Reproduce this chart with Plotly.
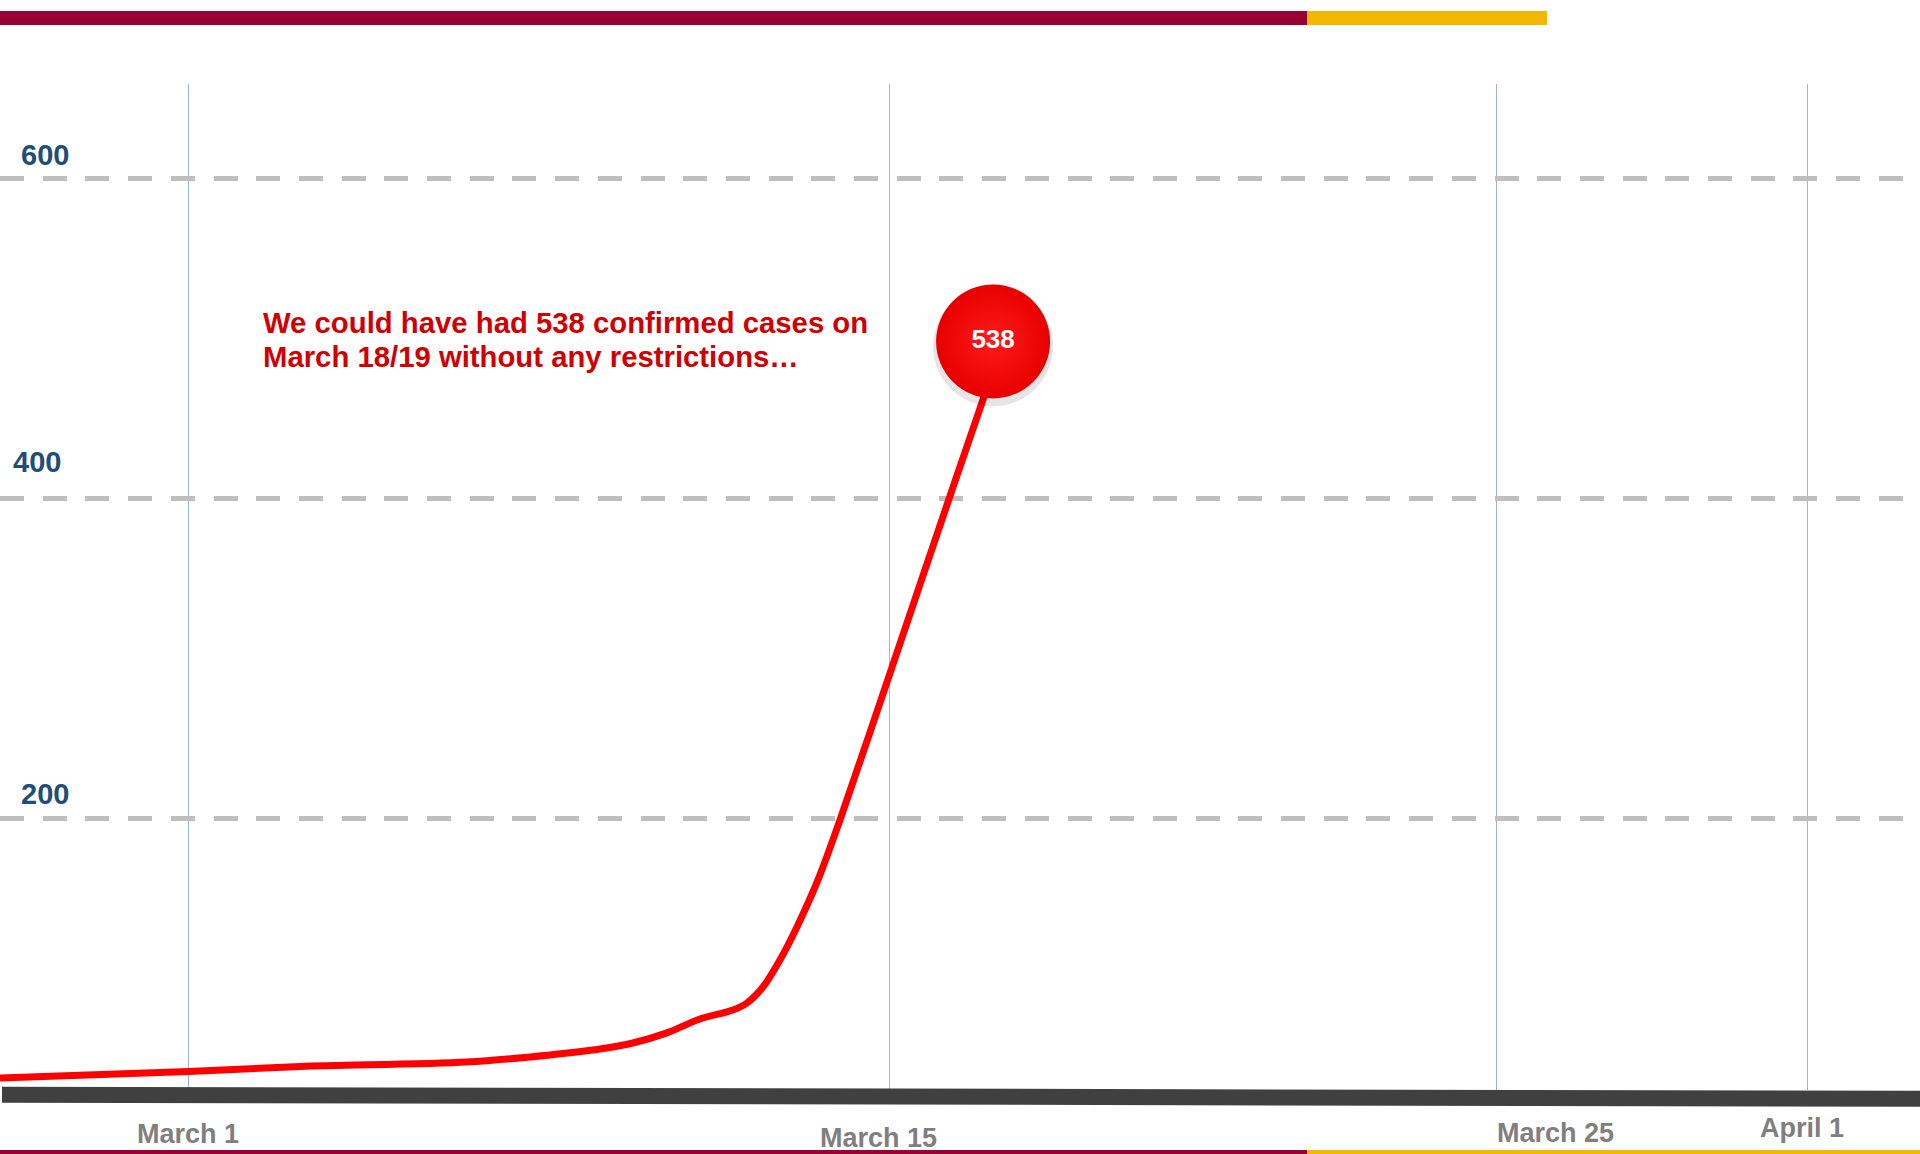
import plotly.graph_objects as go

# ---- data ----
day = [-3.77, 0.0, 2.23, 5.56, 7.22, 8.22, 8.88, 9.56, 10.22, 10.88, 11.16,
       11.48, 11.82, 12.16, 12.58, 13.02, 14.02, 15.26, 15.98]
cases = [37.4, 41.5, 44.6, 47.4, 51.8, 55.5, 59.3, 65.6, 74.3, 79.9, 84.3,
         94.3, 111.2, 131.9, 161.3, 198.8, 290.7, 405.2, 470.9]

peak_day = [16.08]
peak_pos = [498.1]
peak_label = ["538"]

y_ticks = [200, 400, 600]
y_tick_labels = ["200", "400", "600"]

grid_days = [0, 14, 26.15, 32.36]
date_labels = ["March 1", "March 15", "March 25", "April 1"]

callout_lines = ["We could have had 538 confirmed cases on",
                 "March 18/19 without any restrictions…"]

# ---- styling ----
W, H = 1920, 1154
M_T, M_B = 84, 64
FONT = "Arial, 'Liberation Sans', sans-serif"
RED = "#FF0000"
CRIMSON = "#990033"
GOLD = "#F2B700"

fig = go.Figure()

# main curve
fig.add_trace(go.Scatter(
    x=day, y=cases, mode="lines",
    line=dict(color=RED, width=7, shape="spline", smoothing=0.9),
    hoverinfo="skip", showlegend=False))

# bubble shadow
fig.add_trace(go.Scatter(
    x=peak_day, y=[v - 3.0 for v in peak_pos], mode="markers",
    marker=dict(size=120, color="rgba(0,0,0,0.10)", line=dict(width=0)),
    hoverinfo="skip", showlegend=False))

# bubble
fig.add_trace(go.Scatter(
    x=peak_day, y=peak_pos, mode="markers+text",
    text=["<b>%s</b>" % t for t in peak_label],
    textposition="middle center",
    textfont=dict(family=FONT, size=26, color="white"),
    marker=dict(size=114, color="#E80000",
                gradient=dict(type="radial", color="#FF1A1A"),
                line=dict(width=0)),
    hoverinfo="skip", showlegend=False))

annotations = []
# y labels
y_shifts = [24, 36, 24]
y_label_x = [45, 37, 45]
for v, t, s, px in zip(y_ticks, y_tick_labels, y_shifts, y_label_x):
    annotations.append(dict(
        xref="paper", yref="y", x=px / W, y=v, xanchor="center", yanchor="middle",
        yshift=s, showarrow=False, text="<b>%s</b>" % t,
        font=dict(family=FONT, size=29, color="#1F4E79")))

# date labels
x_shifts = [-1, -11, 59, -6]
y_px = [1134, 1138, 1133, 1128]
for d, t, xs, yp in zip(grid_days, date_labels, x_shifts, y_px):
    annotations.append(dict(
        xref="x", yref="paper", x=d, y=0, xanchor="center", yanchor="middle",
        xshift=xs, yshift=-(yp - (H - M_B)), showarrow=False, text="<b>%s</b>" % t,
        font=dict(family=FONT, size=27, color="#7F7F7F")))

# callout text
for i, line in enumerate(callout_lines):
    ypix = 322 + 34 * i
    annotations.append(dict(
        xref="paper", yref="paper", x=261 / W,
        y=((H - M_B) - ypix) / (H - M_T - M_B), xanchor="left", yanchor="middle",
        showarrow=False, text="<b>%s</b>" % line,
        font=dict(family=FONT, size=29.3, color="#D00000")))

ph = H - M_T - M_B


def py(pix):
    return ((H - M_B) - pix) / ph


shapes = [
    # top banner
    dict(type="rect", xref="paper", yref="paper", x0=0, x1=1307 / W,
         y0=py(25), y1=py(11), fillcolor=CRIMSON, line=dict(width=0), layer="above"),
    dict(type="rect", xref="paper", yref="paper", x0=1307 / W, x1=1547 / W,
         y0=py(25), y1=py(11), fillcolor=GOLD, line=dict(width=0), layer="above"),
    # bottom rule
    dict(type="rect", xref="paper", yref="paper", x0=0, x1=1307 / W,
         y0=py(1155), y1=py(1150), fillcolor=CRIMSON, line=dict(width=0), layer="above"),
    dict(type="rect", xref="paper", yref="paper", x0=1307 / W, x1=1,
         y0=py(1155), y1=py(1150), fillcolor=GOLD, line=dict(width=0), layer="above"),
    # dark baseline bar
    dict(type="line", xref="paper", yref="paper", x0=2 / W, x1=1,
         y0=py(1094.7), y1=py(1098.8), line=dict(color="#404040", width=16),
         layer="above"),
]

fig.update_layout(
    width=W, height=H, autosize=False,
    margin=dict(l=0, r=0, t=M_T, b=M_B, pad=0),
    paper_bgcolor="white", plot_bgcolor="white",
    showlegend=False,
    annotations=annotations,
    shapes=shapes,
    xaxis=dict(range=[-188.6 / 50.03, (W - 188.6) / 50.03],
               tickmode="array", tickvals=grid_days, showticklabels=False,
               ticks="", showgrid=True, gridcolor="#9AB3E0", gridwidth=1,
               zeroline=False, showline=False, fixedrange=True),
    yaxis=dict(range=[29.90, 659.13],
               tickmode="array", tickvals=y_ticks, showticklabels=False,
               ticks="", showgrid=True, gridcolor="#BFBFBF", gridwidth=5,
               griddash="24px,18.7px",
               zeroline=False, showline=False, fixedrange=True),
)

fig.write_html("out.html", config={"displayModeBar": False},
               post_script="document.body.style.margin='0';document.body.style.overflow='hidden';")
